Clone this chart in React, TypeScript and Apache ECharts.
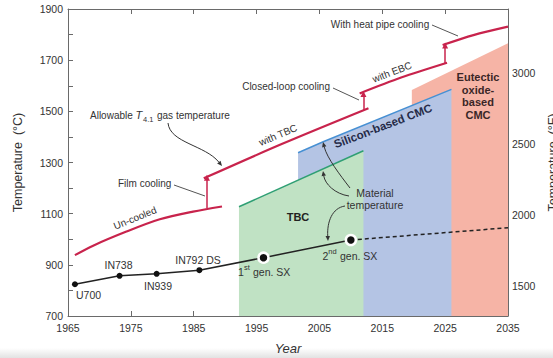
import React, { useEffect, useRef } from 'react';
import * as echarts from 'echarts';

// ---------- data ----------
const xTickYears = [1965, 1975, 1985, 1995, 2005, 2015, 2025, 2035];
const innerTickYears = [1975, 1985, 1995, 2005, 2015, 2025];
const celsiusLabels = [700, 900, 1100, 1300, 1500, 1700, 1900];
const fahrenheitLabels = [1500, 2000, 2500, 3000];

// allowable T4.1 gas temperature (°C)
const uncooled = [[1966.1, 938], [1969, 975], [1974.3, 1030], [1979.6, 1078], [1984.9, 1108], [1989.5, 1128]];
const withTBC = [[1986.6, 1238], [1999, 1372], [2012.8, 1512]];
const withEBC = [[2011.4, 1570], [2018, 1632], [2025.3, 1690]];
const heatPipe = [[2024.6, 1759], [2029.5, 1798], [2035, 1831]];
// step arrows: [year, from °C, to °C]
const stepArrows = [[1987.1, 1122, 1240], [2012.0, 1505, 1568], [2025.0, 1688, 1757]];

// material regions (top edge)
const eutecticCMC = [[2019.7, 1583], [2035, 1766]];
const siliconCMC = [[2001.6, 1338], [2005.6, 1381], [2026.0, 1586]];
const tbcMaterial = [[1992.2, 1127], [2012.0, 1346]];

// alloys (material temperature)
const alloyNames = ['U700', 'IN738', 'IN939', 'IN792 DS', '1st gen. SX', '2nd gen. SX'];
const alloyYears = [1966.1, 1973.2, 1979.1, 1985.9, 1996.1, 2010.0];
const alloyTemps = [824, 857, 865, 879, 928, 997];
const projection = [[2010.0, 997], [2035, 1045]];

// ---------- styles ----------
const FONT = '"Liberation Sans", Arial, Helvetica, sans-serif';
const RED = '#c8234c';
const TXT = '#333';
const AXIS = '#6a6a6a';
const plain = (v: number) => String(v);

const text = (x: number, y: number, t: string, o: any = {}) => ({
  type: 'text',
  x,
  y,
  rotation: o.rot ? (o.rot * Math.PI) / 180 : 0,
  silent: true,
  z: 100,
  style: {
    text: t,
    fill: o.fill || TXT,
    fontSize: o.size || 10,
    fontFamily: FONT,
    fontWeight: o.weight || 'normal',
    fontStyle: o.style || 'normal',
    align: o.align || 'center',
    verticalAlign: 'middle',
    lineHeight: o.lh || undefined,
  },
});

const line = (x1: number, y1: number, x2: number, y2: number, c = '#555') => ({
  type: 'line',
  silent: true,
  z: 100,
  shape: { x1, y1, x2, y2 },
  style: { stroke: c, lineWidth: 1 },
});

const curveArrow = (p: number[], c = '#333') => {
  const [x1, y1, cx1, cy1, cx2, cy2, x2, y2] = p;
  const dx = x2 - cx2, dy = y2 - cy2;
  const L = Math.hypot(dx, dy) || 1;
  const ux = dx / L, uy = dy / L;
  const len = 5, w = 2.2;
  const bx = x2 - ux * len, by = y2 - uy * len;
  return [
    {
      type: 'bezierCurve',
      silent: true,
      z: 100,
      shape: { x1, y1, cpx1: cx1, cpy1: cy1, cpx2: cx2, cpy2: cy2, x2: bx, y2: by },
      style: { stroke: c, lineWidth: 1, fill: 'none' },
    },
    {
      type: 'polygon',
      silent: true,
      z: 100,
      shape: { points: [[x2, y2], [bx - uy * w, by + ux * w], [bx + uy * w, by - ux * w]] },
      style: { fill: c },
    },
  ];
};

const redLine = (data: number[][], extra: any = {}) => ({
  type: 'line',
  data,
  smooth: 0.3,
  symbol: 'none',
  silent: true,
  z: 5,
  lineStyle: { color: RED, width: 2.2 },
  ...extra,
});

const area = (data: number[][], fill: string, edge: string | null, z: number) => ({
  type: 'line',
  data,
  symbol: 'none',
  silent: true,
  z,
  lineStyle: edge ? { color: edge, width: 1.5 } : { width: 0, opacity: 0 },
  areaStyle: { color: fill, opacity: 1, origin: 'start' },
});

const option: any = {
  animation: false,
  backgroundColor: '#fff',
  grid: { left: 68, right: 45, top: 9, bottom: 42, containLabel: false, outerBoundsMode: 'none' },
  xAxis: [
    {
      type: 'value',
      min: 1965,
      max: 2035,
      name: 'Year',
      nameLocation: 'middle',
      nameGap: 26,
      nameTextStyle: { fontFamily: FONT, fontSize: 13, fontStyle: 'italic', color: TXT },
      axisLine: { show: true, lineStyle: { color: AXIS, width: 1 } },
      axisTick: { show: true, inside: true, length: 5, customValues: innerTickYears, lineStyle: { color: AXIS } },
      axisLabel: { customValues: xTickYears, formatter: plain, margin: 6, fontFamily: FONT, fontSize: 10.5, color: TXT },
      splitLine: { show: false },
    },
    {
      type: 'value',
      position: 'top',
      min: 1965,
      max: 2035,
      axisLine: { show: true, lineStyle: { color: AXIS, width: 1 } },
      axisTick: { show: true, inside: true, length: 5, customValues: innerTickYears, lineStyle: { color: AXIS } },
      axisLabel: { show: false },
      splitLine: { show: false },
    },
  ],
  yAxis: [
    {
      type: 'value',
      min: 700,
      max: 1900,
      interval: 100,
      name: 'Temperature  (°C)',
      nameLocation: 'middle',
      nameRotate: 90,
      nameGap: 44,
      nameTextStyle: { fontFamily: FONT, fontSize: 12.5, color: TXT },
      axisLine: { show: true, lineStyle: { color: AXIS, width: 1 } },
      axisTick: { show: true, inside: true, length: 5, lineStyle: { color: AXIS } },
      axisLabel: { customValues: celsiusLabels, formatter: plain, margin: 5, fontFamily: FONT, fontSize: 10.5, color: TXT },
      splitLine: { show: false },
    },
    {
      type: 'value',
      position: 'right',
      min: 700 * 1.8 + 32,
      max: 1900 * 1.8 + 32,
      name: 'Temperature  (°F)',
      nameLocation: 'middle',
      nameRotate: 90,
      nameGap: 35,
      nameTextStyle: { fontFamily: FONT, fontSize: 12.5, color: TXT },
      axisLine: { show: true, lineStyle: { color: AXIS, width: 1 } },
      axisTick: { show: true, inside: true, length: 5, customValues: fahrenheitLabels, lineStyle: { color: AXIS } },
      axisLabel: { customValues: fahrenheitLabels, formatter: plain, margin: 4, fontFamily: FONT, fontSize: 10.5, color: TXT },
      splitLine: { show: false },
    },
  ],
  series: [
    area(eutecticCMC, '#f6b4a6', null, 1),
    area(siliconCMC, '#b4c4e4', '#4790d3', 2),
    area(tbcMaterial, '#c0e2c4', '#2f9f74', 3),
    redLine(uncooled),
    redLine(withTBC),
    redLine(withEBC),
    redLine(heatPipe, {
      markLine: {
        silent: true,
        symbol: ['none', 'triangle'],
        symbolSize: 6,
        label: { show: false },
        lineStyle: { color: RED, width: 1.5, type: 'solid' },
        data: stepArrows.map(([x, a, b]) => [{ coord: [x, a] }, { coord: [x, b] }]),
      },
    }),
    {
      type: 'line',
      data: projection,
      symbol: 'none',
      silent: true,
      z: 6,
      lineStyle: { color: '#222', width: 1.5, type: [4, 3] },
    },
    {
      type: 'line',
      silent: true,
      z: 7,
      data: alloyYears.map((x, i) => ({
        value: [x, alloyTemps[i]],
        name: alloyNames[i],
        symbolSize: i >= 4 ? 10 : 6,
        itemStyle: i >= 4 ? { color: '#111', borderColor: '#fff', borderWidth: 2.5 } : { color: '#111' },
      })),
      symbol: 'circle',
      lineStyle: { color: '#222', width: 1.5 },
    },
  ],
  graphic: [
    {
      type: 'rect',
      silent: true,
      z: -10,
      shape: { x: 0, y: 348, width: 553, height: 10 },
      style: {
        fill: new echarts.graphic.LinearGradient(0, 0, 0, 1, [
          { offset: 0, color: '#ffffff' },
          { offset: 1, color: '#e2e2e2' },
        ]),
      },
    },
    // allowable gas temperature label
    text(90, 115, 'Allowable', { align: 'left' }),
    text(135.5, 115, 'T', { align: 'left', style: 'italic', size: 11 }),
    text(143, 119, '4.1', { align: 'left', size: 7.5 }),
    text(157, 115, 'gas temperature', { align: 'left' }),
    ...curveArrow([168, 123, 170, 143, 205, 145, 222, 166]),
    text(118, 183, 'Film cooling', { align: 'left' }),
    line(174, 185, 205, 196),
    text(135, 218, 'Un-cooled', { rot: 22 }),
    text(278, 135, 'with TBC', { rot: 23 }),
    text(330, 86, 'Closed-loop cooling', { align: 'right' }),
    line(333, 88, 359, 100),
    text(392, 72, 'with EBC', { rot: 21 }),
    text(380, 24, 'With heat pipe cooling'),
    line(432, 25, 458, 36),
    text(383, 126, 'Silicon-based CMC', { rot: 21, weight: 'bold', size: 11.5, fill: '#262b48' }),
    text(478, 96, 'Eutectic\noxide-\nbased\nCMC', { weight: 'bold', size: 11, lh: 12.5, fill: '#3a2626' }),
    text(298, 217, 'TBC', { weight: 'bold', size: 11, fill: '#222' }),
    text(375, 199, 'Material\ntemperature', { size: 10.5, lh: 12.5 }),
    ...curveArrow([350, 188, 340, 175, 327, 158, 323, 142]),
    ...curveArrow([349, 196, 335, 194, 325, 184, 323, 171]),
    ...curveArrow([345, 206, 332, 208, 327, 222, 328, 241]),
    // alloy labels
    text(76, 295, alloyNames[0], { align: 'left', size: 10.5 }),
    text(118.5, 265, alloyNames[1], { size: 10.5 }),
    text(158, 286, alloyNames[2], { size: 10.5 }),
    text(198, 259.5, alloyNames[3], { size: 10.5 }),
    text(238, 272, '1', { align: 'left', size: 10.5 }),
    text(244, 267.5, 'st', { align: 'left', size: 7.5 }),
    text(253, 272, 'gen. SX', { align: 'left', size: 10.5 }),
    text(322.5, 256, '2', { align: 'left', size: 10.5 }),
    text(328.3, 251.5, 'nd', { align: 'left', size: 7.5 }),
    text(340, 256, 'gen. SX', { align: 'left', size: 10.5 }),
  ],
};

export default function App() {
  const ref = useRef<HTMLDivElement>(null);
  useEffect(() => {
    const chart = echarts.init(ref.current!, null, { renderer: 'svg' });
    chart.setOption(option);
    return () => chart.dispose();
  }, []);
  return (
    <div
      ref={ref}
      style={{ position: 'fixed', left: 0, top: 0, width: 553, height: 358, background: '#fff' }}
    />
  );
}
